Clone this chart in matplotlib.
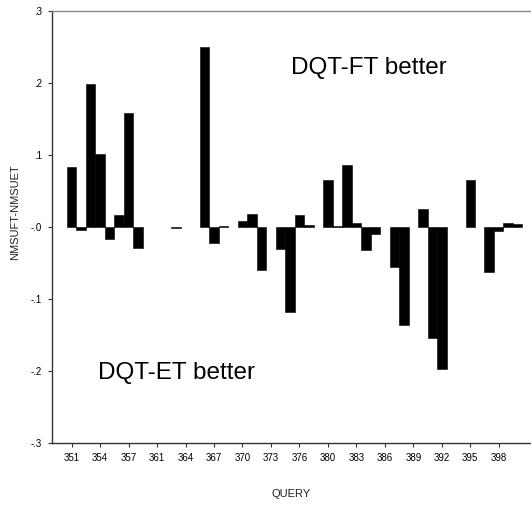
import numpy as np
import matplotlib.pyplot as plt

# queries 351-400, two of them are missing in the chart (359 and 379)
queries = [351, 352, 353, 354, 355, 356, 357, 358, 360, 361, 362, 363, 364, 365,
           366, 367, 368, 369, 370, 371, 372, 373, 374, 375, 376, 377, 378, 380,
           381, 382, 383, 384, 385, 386, 387, 388, 389, 390, 391, 392, 393, 394,
           395, 396, 397, 398, 399, 400]
diff = [0.083, -0.004, 0.198, 0.102, -0.016, 0.016, 0.158, -0.029, 0.0, 0.0,
        0.0, -0.001, 0.0, 0.0, 0.250, -0.022, 0.001, 0.0, 0.009, 0.018,
        -0.060, 0.0, -0.031, -0.118, 0.016, 0.003, 0.0, 0.065, 0.001, 0.086,
        0.006, -0.032, -0.010, 0.0, -0.056, -0.136, 0.0, 0.025, -0.154, -0.197,
        0.0, 0.0, 0.065, 0.0, -0.062, -0.005, 0.006, 0.004]

ytick_vals = [0.3, 0.2, 0.1, 0.0, -0.1, -0.2, -0.3]
ytick_labels = ['.3', '.2', '.1', '-.0', '-.1', '-.2', '-.3']

tick_font = ['Liberation Sans Narrow', 'Liberation Sans', 'DejaVu Sans']

fig = plt.figure(figsize=(5.31, 5.08), dpi=100)
ax = fig.add_axes([52 / 531, 65 / 508, 1 - 52 / 531, 432 / 508])

x = np.arange(len(queries))
# no outline on empty bars, otherwise a line is drawn along zero
edges = ['black' if v != 0 else 'none' for v in diff]
ax.bar(x, diff, width=1.0, color='black', edgecolor=edges, linewidth=0.4)

ax.set_xlim(-2.07, 48.4)
ax.set_ylim(-0.3, 0.3)

ax.set_xticks(x[::3])
ax.set_xticklabels([str(q) for q in queries[::3]], fontsize=7, family=tick_font)
ax.set_yticks(ytick_vals)
ax.set_yticklabels(ytick_labels, fontsize=7, family=tick_font)
ax.tick_params(axis='both', direction='out', length=3, width=0.8, color='#333333', pad=4)

ax.spines['right'].set_visible(False)
ax.spines['top'].set_color('#888888')
ax.spines['left'].set_color('#333333')
ax.spines['bottom'].set_color('#333333')
for s in ax.spines.values():
    s.set_linewidth(1.0)

fig.text(15 / 531, 1 - 212 / 508, 'NMSUFT-NMSUET', rotation=90, ha='center', va='center',
         fontsize=8, family='Liberation Sans', color='#222222')
fig.text(291 / 531, 1 - 494 / 508, 'QUERY', ha='center', va='center',
         fontsize=8, family='Liberation Sans', color='#222222')

fig.text(291 / 531, 1 - 68 / 508, 'DQT-FT better', ha='left', va='center',
         fontsize=17.5, family='Liberation Sans')
fig.text(98 / 531, 1 - 373 / 508, 'DQT-ET better', ha='left', va='center',
         fontsize=17.5, family='Liberation Sans')

fig.savefig('out.png', dpi=100)
